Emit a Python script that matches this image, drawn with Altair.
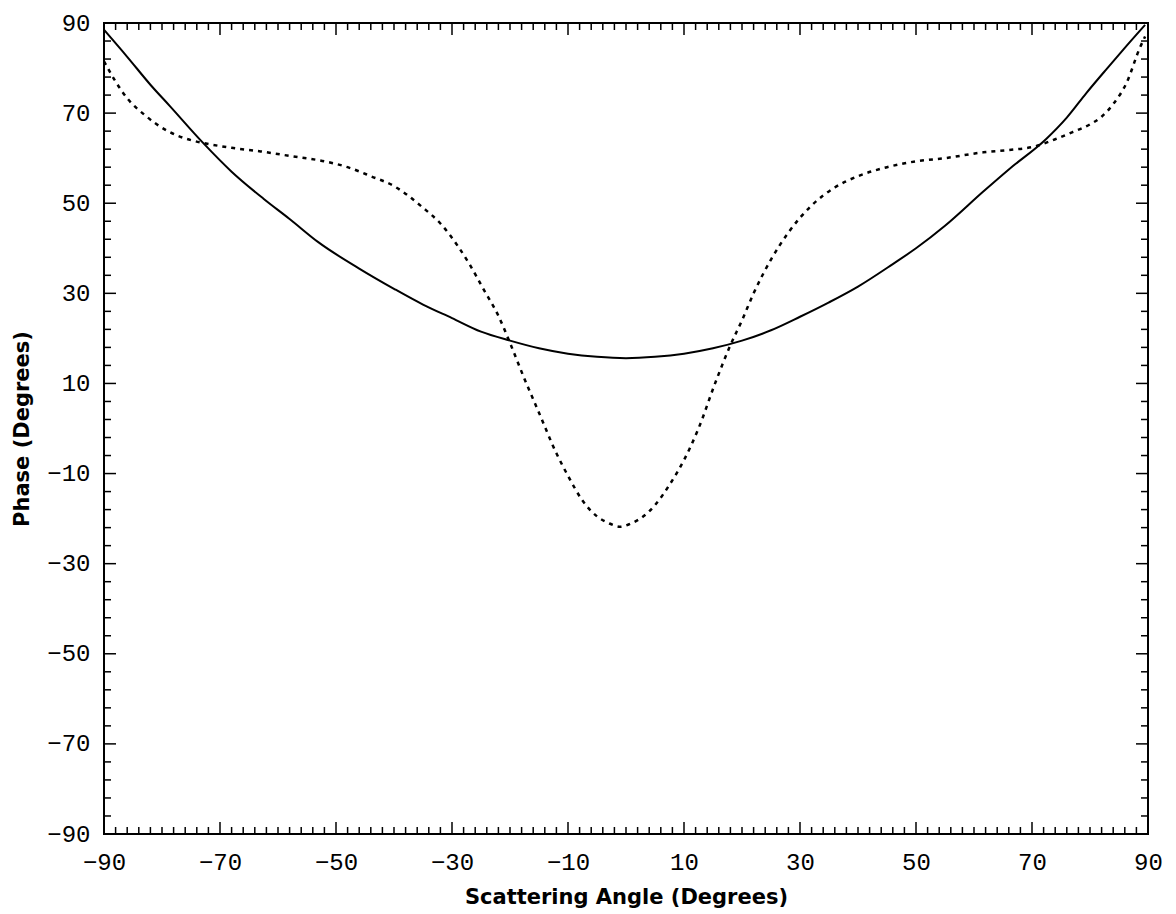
import altair as alt
import pandas as pd

# Solid curve (phase vs scattering angle)
solid_x = [-90, -86, -82, -78.6, -73, -68, -62.5, -58, -53, -46, -40, -35, -30, -25, -20, -15,
           -10, -5, 0, 5, 10, 15, 20, 25, 30, 35, 40, 46, 50, 55, 61.6, 66, 72.4, 76, 79.4, 83, 86, 89.5]
solid_y = [88.5, 82.5, 76.3, 71.5, 63.5, 57, 51, 46.5, 41.3, 35.5, 31, 27.5, 24.5, 21.5, 19.5, 17.8,
           16.6, 15.9, 15.6, 15.9, 16.6, 17.8, 19.5, 21.8, 24.8, 28, 31.5, 36.5, 40, 45, 52.6, 57.5,
           64.2, 69, 74.5, 80, 84.5, 89.6]

# Dotted curve
dotted_x = [-90, -88, -86, -83, -79, -75, -73, -68, -63, -58, -52, -48, -44, -40, -35, -32, -29,
            -27, -24.6, -22, -20, -17.5, -15, -12, -10, -7.5, -5, -3, -1, 1, 3, 5, 7.5, 10, 12.5,
            15.5, 18, 20, 22, 25, 28, 32, 36, 40, 45, 50, 55, 61.6, 66, 70.5, 74, 77, 80, 82, 84,
            86.3, 88.6, 89.5]
dotted_y = [81.5, 77, 73.3, 69.6, 66, 64, 63.4, 62.3, 61.5, 60.5, 59.3, 58, 56, 53.8, 49, 45.5, 40.5,
            36.5, 31, 25, 19, 11, 3.5, -5.5, -10.5, -16, -19.5, -21, -21.8, -21, -19.5, -17, -12.5,
            -7, 0, 10.5, 18.5, 24, 30, 37.5, 43.5, 49.5, 53.5, 56, 58, 59.3, 60, 61.3, 61.8, 62.6,
            64.2, 65.8, 67.5, 69.2, 72, 76.7, 84.5, 87]

x_labels = [-90, -70, -50, -30, -10, 10, 30, 50, 70, 90]
y_labels = [-90, -70, -50, -30, -10, 10, 30, 50, 70, 90]
x_major = [-70, -50, -30, -10, 10, 30, 50, 70]
y_major = [-70, -50, -30, -10, 10, 30, 50, 70]
x_minor = [v for v in range(-88, 90, 2) if v not in x_major]
y_minor = [v for v in range(-86, 90, 4) if v not in y_major]

W, H = 1044, 811
MINOR, MAJOR = 7, 12

df_solid = pd.DataFrame({"angle": solid_x, "phase": solid_y})
df_dotted = pd.DataFrame({"angle": dotted_x, "phase": dotted_y})
df_xmin = pd.DataFrame({"angle": x_minor})
df_xmaj = pd.DataFrame({"angle": x_major})
df_ymin = pd.DataFrame({"phase": y_minor})
df_ymaj = pd.DataFrame({"phase": y_major})

xs = alt.Scale(domain=[-90, 90], nice=False, zero=False)
ys = alt.Scale(domain=[-90, 90], nice=False, zero=False)

xaxis = alt.Axis(values=x_labels, ticks=False, domain=False, grid=False,
                 labelFont="Liberation Mono", labelFontSize=24, labelColor="black",
                 labelPadding=16, labelOverlap=False, labelFlush=False,
                 title="Scattering Angle (Degrees)", titleFont="DejaVu Sans",
                 titleFontSize=21, titleFontWeight="bold", titleColor="black", titlePadding=12)
yaxis = alt.Axis(values=y_labels, ticks=False, domain=False, grid=False,
                 labelFont="Liberation Mono", labelFontSize=24, labelColor="black",
                 labelPadding=14, labelOverlap=False, labelFlush=False,
                 title="Phase (Degrees)", titleFont="DejaVu Sans",
                 titleFontSize=21, titleFontWeight="bold", titleColor="black", titlePadding=14)

xenc = alt.X("angle:Q", scale=xs, axis=xaxis)
yenc = alt.Y("phase:Q", scale=ys, axis=yaxis)

solid = alt.Chart(df_solid).mark_line(color="black", strokeWidth=2, interpolate="monotone").encode(x=xenc, y=yenc)
dotted = alt.Chart(df_dotted).mark_line(color="black", strokeWidth=2.5, strokeDash=[4, 5],
                                        interpolate="monotone").encode(x=xenc, y=yenc)

def xticks(df, length):
    bottom = alt.Chart(df).mark_rule(color="black", strokeWidth=1.5).encode(
        x=xenc, y=alt.value(H), y2=alt.value(H - length))
    top = alt.Chart(df).mark_rule(color="black", strokeWidth=1.5).encode(
        x=xenc, y=alt.value(0), y2=alt.value(length))
    return [bottom, top]

def yticks(df, length):
    left = alt.Chart(df).mark_rule(color="black", strokeWidth=1.5).encode(
        y=yenc, x=alt.value(0), x2=alt.value(length))
    right = alt.Chart(df).mark_rule(color="black", strokeWidth=1.5).encode(
        y=yenc, x=alt.value(W), x2=alt.value(W - length))
    return [left, right]

layers = [solid, dotted] + xticks(df_xmin, MINOR) + xticks(df_xmaj, MAJOR) + yticks(df_ymin, MINOR) + yticks(df_ymaj, MAJOR)

chart = alt.layer(*layers).properties(
    width=W, height=H,
    autosize=alt.AutoSizeParams(type="none"),
    padding={"left": 104, "top": 23, "right": 25, "bottom": 80},
    background="white",
).configure_view(stroke="black", strokeWidth=2)

chart.save("out.html", embed_options={"renderer": "svg", "actions": False})
